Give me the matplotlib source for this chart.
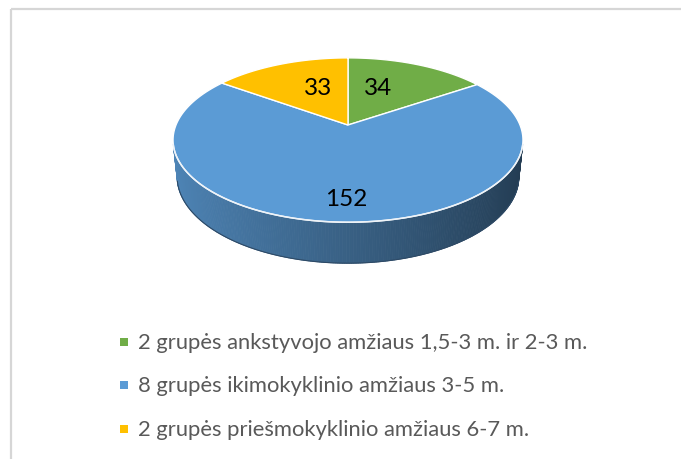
import numpy as np
import matplotlib
matplotlib.use("Agg")
import matplotlib.pyplot as plt
from matplotlib.patches import Polygon

categories = [
    "2 grupės ankstyvojo amžiaus 1,5-3 m. ir 2-3 m.",
    "8 grupės ikimokyklinio amžiaus 3-5 m.",
    "2 grupės priešmokyklinio amžiaus 6-7 m.",
]
values = [34, 152, 33]
colors = ["#70AD47", "#5B9BD5", "#FFC000"]

W, H = 681, 459
fig = plt.figure(figsize=(W / 100, H / 100), dpi=100)
ax = fig.add_axes([0, 0, 1, 1])
ax.set_xlim(0, W)
ax.set_ylim(H, 0)
ax.axis("off")

# frame
ax.plot([11, 11], [9, H], color="#D6D6D6", lw=1.6, solid_capstyle="butt")
ax.plot([11, W], [9, 9], color="#D6D6D6", lw=1.6, solid_capstyle="butt")

# perspective projection of a 3D disk
cx, cy = 348, 125
th = np.radians(27.5)
s, c = np.sin(th), np.cos(th)
D, F, h = 4.84, 832.5, 0.24


def proj(X, Y, Z):
    depth = D + Y * c - Z * s
    return cx + F * X / depth, cy - F * (Y * s + Z * c) / depth


def rim(phi, z, r=1.0):
    return proj(r * np.sin(phi), r * np.cos(phi), z)


total = sum(values)
angles = np.cumsum([0] + values) / total * 2 * np.pi

# side wall (visible front part)
lim = np.arccos(-1 / (D * c))
phis = np.linspace(lim, 2 * np.pi - lim, 240)
base = np.array(matplotlib.colors.to_rgb(colors[1]))
for a0, a1 in zip(phis[:-1], phis[1:]):
    pts = [rim(a0, 0), rim(a1, 0), rim(a1, -h), rim(a0, -h)]
    X = np.sin((a0 + a1) / 2)
    f = 0.62 - 0.24 * X
    col = np.clip(base * f, 0, 1)
    ax.add_patch(Polygon(pts, closed=True, facecolor=col, edgecolor=col, lw=0.6))
bx, by = zip(*[rim(p, -h) for p in phis])
ax.plot(bx, by, color="#2E4A66", lw=0.8)

# top face slices
for i, v in enumerate(values):
    ph = np.linspace(angles[i], angles[i + 1], 200)
    pts = [proj(0, 0, 0)] + [rim(p, 0) for p in ph]
    ax.add_patch(Polygon(pts, closed=True, facecolor=colors[i], edgecolor="white", lw=1.0))

# rim highlight on the front edge
hx, hy = zip(*[rim(p, 0) for p in phis])
ax.plot(hx, hy, color="#EEF3F8", lw=1.1)

# data labels
for i, v in enumerate(values):
    mid = (angles[i] + angles[i + 1]) / 2
    ref = 0 if np.cos(mid) > 0 else np.pi
    if mid > np.pi * 1.5:
        ref = 2 * np.pi
    la = ref + (mid - ref) * 0.75
    r = 0.54 if v < total / 2 else 0.80
    x, y = rim(la, 0, r)
    ax.text(x, y, str(v), ha="center", va="center", fontsize=17.5, color="black",
            family=["Lato", "DejaVu Sans"])

# legend
leg_y = [342, 385, 429]
for cat, col, y in zip(categories, colors, leg_y):
    ax.scatter([124], [y], marker="s", s=40, color=col, linewidths=0)
    ax.text(138, y + 1, cat, ha="left", va="center", fontsize=15.8, color="#595959",
            family=["Lato", "DejaVu Sans"])

fig.savefig("out.png", dpi=100)
